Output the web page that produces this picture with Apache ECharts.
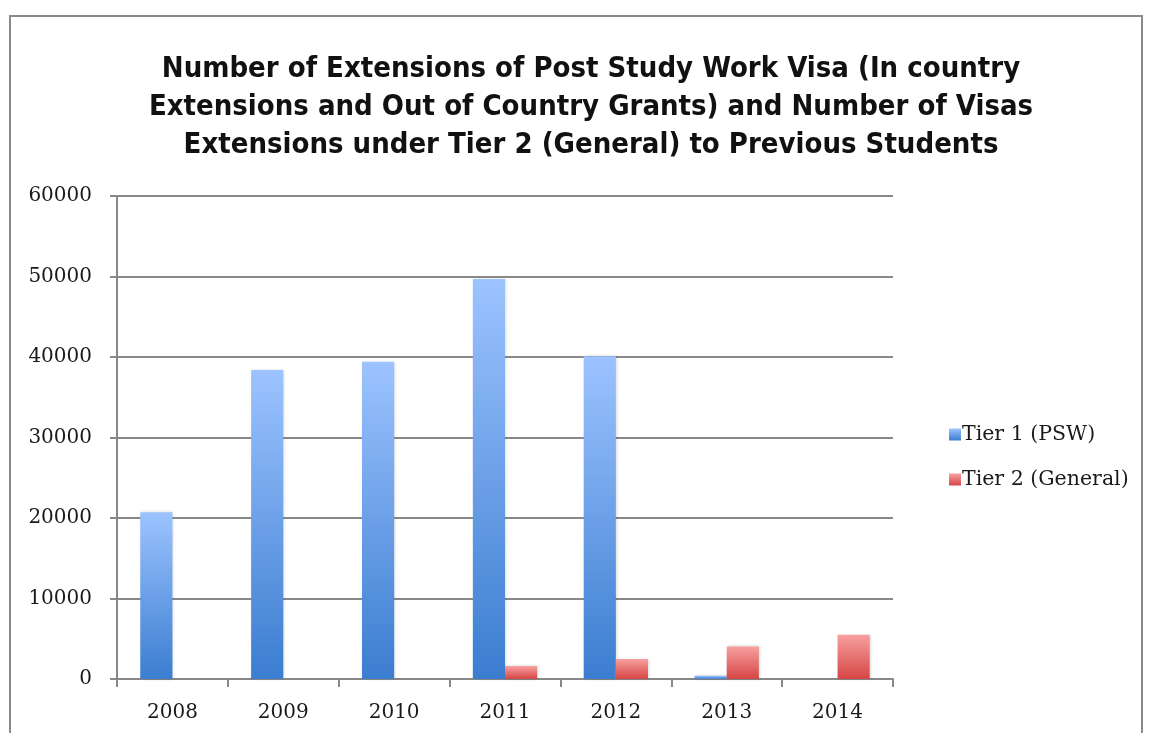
<!DOCTYPE html>
<html><head><meta charset="utf-8">
<script src="https://cdn.jsdelivr.net/npm/echarts@6/dist/echarts.min.js"></script>
<style>
html,body{margin:0;padding:0;background:#fff;}
#frame{position:absolute;left:9px;top:15px;width:1134px;height:740px;border:2px solid #8a8a8a;box-sizing:border-box;}
#c{position:absolute;left:0;top:0;width:1150px;height:733px;}
</style></head>
<body>
<div id="frame"></div>
<div id="c"></div>
<script>
const categories = ['2008','2009','2010','2011','2012','2013','2014'];
const tier1 = [20700, 38400, 39400, 49700, 40100, 400, null];
const tier2 = [null, null, null, 1600, 2500, 4050, 5500];
const seriesNames = ['Tier 1 (PSW)', 'Tier 2 (General)'];
const titleText = 'Number of Extensions of Post Study Work Visa (In country\nExtensions and Out of Country Grants) and Number of Visas\nExtensions under Tier 2 (General) to Previous Students';

const chart = echarts.init(document.getElementById('c'));
const grad = (top, bottom) => new echarts.graphic.LinearGradient(0,0,0,1,[{offset:0,color:top},{offset:1,color:bottom}]);
const labelFont = {fontFamily:'DejaVu Serif', fontSize:20, color:'#1a1a1a'};
chart.setOption({
  animation:false,
  title:{
    text:titleText, left:586, top:45, textAlign:'center',
    textStyle:{fontFamily:'DejaVu Sans Condensed', fontWeight:'bold', fontSize:29, lineHeight:38, color:'#111'}
  },
  legend:{
    orient:'vertical', left:944, top:419, itemWidth:12, itemHeight:12, itemGap:24,
    icon:'rect',
    textStyle:{fontFamily:'DejaVu Serif', fontSize:20.5, color:'#1a1a1a', padding:[0,0,0,-4]},
    data:seriesNames
  },
  grid:{left:117, right:257, top:196, bottom:54},
  xAxis:{
    type:'category', data:categories,
    axisLine:{lineStyle:{color:'#888', width:2}},
    axisTick:{show:true, length:8, lineStyle:{color:'#888', width:2}},
    axisLabel:Object.assign({margin:24}, labelFont)
  },
  yAxis:{
    type:'value', min:0, max:60000, interval:10000,
    axisLine:{show:true, lineStyle:{color:'#888', width:2}},
    axisTick:{show:true, length:7, lineStyle:{color:'#888', width:2}},
    splitLine:{lineStyle:{color:'#888', width:2}},
    axisLabel:Object.assign({margin:25, formatter:v => String(v)}, labelFont)
  },
  series:[
    {name:seriesNames[0], type:'bar', data:tier1, barGap:'0%', barCategoryGap:'42%',
     itemStyle:{color:grad('#9cc3ff','#3b7dd0'), shadowBlur:3, shadowColor:'rgba(0,0,0,0.18)', shadowOffsetX:1}},
    {name:seriesNames[1], type:'bar', data:tier2, barGap:'0%', barCategoryGap:'42%',
     itemStyle:{color:grad('#f8a0a0','#d64545'), shadowBlur:3, shadowColor:'rgba(0,0,0,0.18)', shadowOffsetX:1}}
  ]
});
</script>
</body></html>
